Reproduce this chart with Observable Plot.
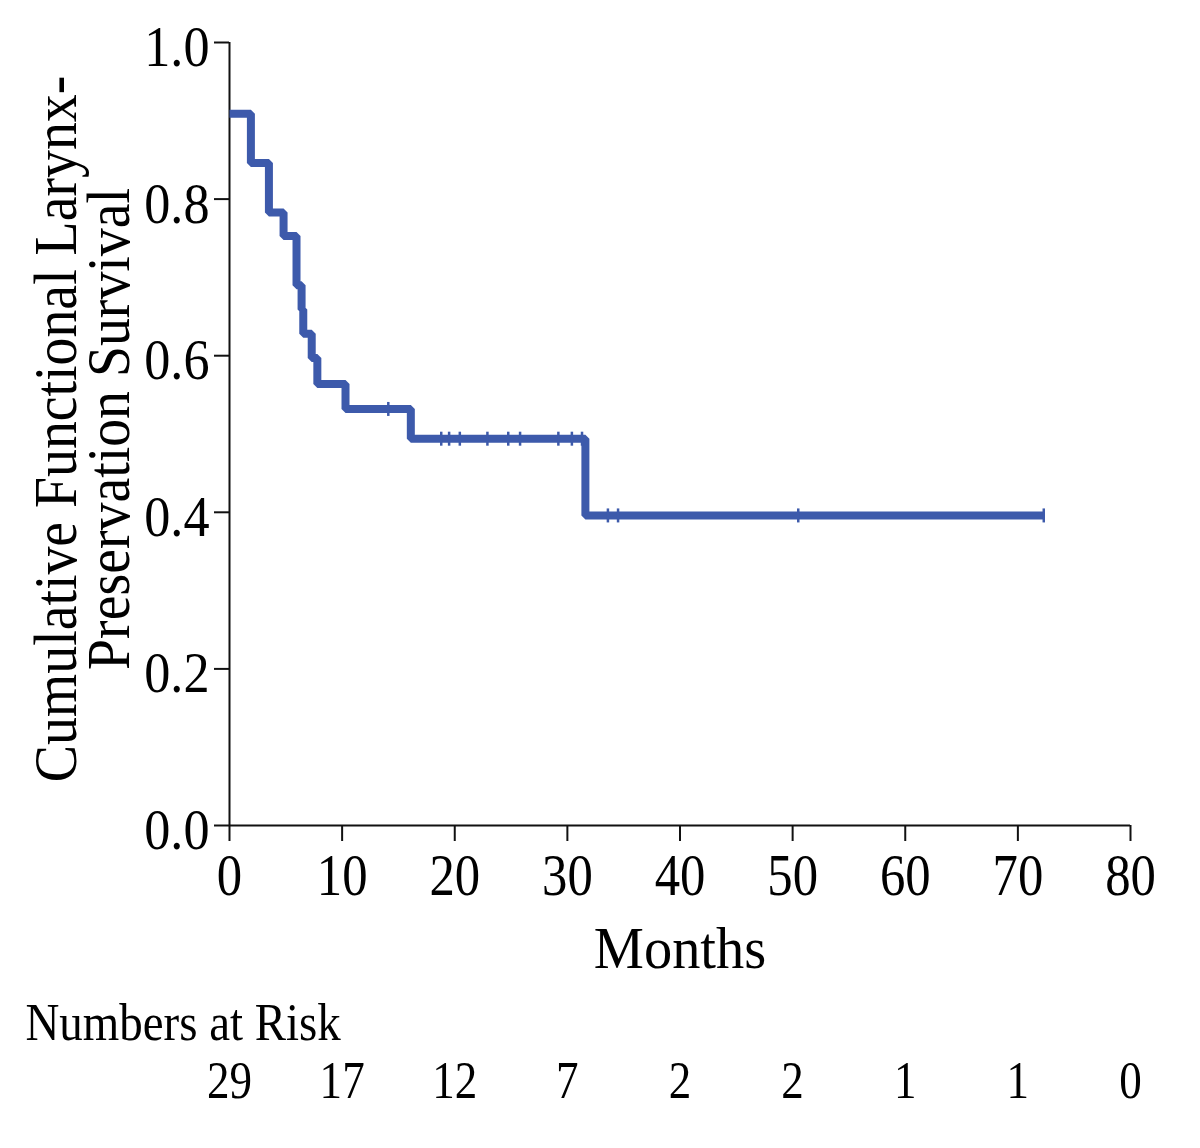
<!DOCTYPE html>
<html><head><meta charset="utf-8">
<script src="https://cdn.jsdelivr.net/npm/d3@7"></script>
<script src="https://cdn.jsdelivr.net/npm/@observablehq/plot@0.6"></script>
<style>
html,body{margin:0;padding:0;background:#fff;}
#chart svg{display:block;}
</style></head><body><div id="chart"></div>
<script>
// Kaplan–Meier step curve (months, survival)
const eventTimes = [0, 1.9, 3.5, 4.8, 5.95, 6.4, 6.55, 7.3, 7.8, 10.3, 16.1, 31.6, 72.3];
const survival   = [0.909, 0.846, 0.783, 0.753, 0.690, 0.659, 0.628, 0.597, 0.564, 0.532, 0.494, 0.396, 0.396];
// censored observations
const censorTimes    = [14.1, 18.8, 19.5, 20.45, 22.9, 24.75, 25.8, 29.2, 30.4, 31.3, 33.6, 34.5, 50.5, 72.3];
const censorSurvival = [0.532, 0.494, 0.494, 0.494, 0.494, 0.494, 0.494, 0.494, 0.494, 0.494, 0.396, 0.396, 0.396, 0.396];
// axes
const xTicks = [0, 10, 20, 30, 40, 50, 60, 70, 80];
const yTicks = [0, 0.2, 0.4, 0.6, 0.8, 1.0];
// numbers at risk
const riskMonths = [0, 10, 20, 30, 40, 50, 60, 70, 80];
const riskCounts = [29, 17, 12, 7, 2, 2, 1, 1, 0];
const yTitle = "Cumulative Functional Larynx-\nPreservation Survival";
const xTitle = "Months";
const riskTitle = "Numbers at Risk";

const curve = eventTimes.map((t, i) => ({t, s: survival[i]}));
const censored = censorTimes.map((t, i) => ({t, s: censorSurvival[i]}));
const riskTable = riskMonths.map((m, i) => ({m, n: riskCounts[i]}));

const blue = "#3d5aab";
const font = "Liberation Serif";
const tickSymbol = {draw(ctx) { ctx.moveTo(0, -7); ctx.lineTo(0, 7); }};

const hasAxisMarks = typeof Plot.axisX === "function";

const marks = [];
if (hasAxisMarks) {
  marks.push(
    Plot.axisX({ticks: xTicks, tickSize: 16, tickPadding: 12, fontSize: 59, label: null, strokeWidth: 2, fontFamily: font, fill: "#000", stroke: "#111"}),
    Plot.axisY({ticks: yTicks, tickSize: 15, text: null, label: null, strokeWidth: 2, stroke: "#111"}),
    Plot.axisY({ticks: yTicks, tickSize: 0, tickPadding: 20, dy: 5, tickFormat: ".1f", fontSize: 58, label: null, fontFamily: font, fill: "#000"})
  );
}
marks.push(
  Plot.ruleX([0], {stroke: "#111", strokeWidth: 2}),
  Plot.ruleY([0], {stroke: "#111", strokeWidth: 2}),
  Plot.line(curve, {x: "t", y: "s", curve: "step-after", stroke: blue, strokeWidth: 8, strokeLinejoin: "miter", strokeLinecap: "butt"}),
  Plot.dot(censored, {x: "t", y: "s", symbol: tickSymbol, stroke: blue, strokeWidth: 2.5, fill: "none", r: 4}),
  Plot.text([yTitle], {text: d => d, frameAnchor: "left", rotate: -90, dx: -191, dy: -5, lineAnchor: "top", lineHeight: 0.855, fontSize: 62, textAnchor: "middle", fill: "#000", fontFamily: font}),
  Plot.text([xTitle], {text: d => d, frameAnchor: "bottom", lineAnchor: "middle", dy: 123, fontSize: 60, fill: "#000", fontFamily: font}),
  Plot.text([riskTitle], {text: d => d, frameAnchor: "bottom-left", lineAnchor: "middle", dx: -204, dy: 198, textAnchor: "start", fontSize: 53, fill: "#000", fontFamily: font}),
  Plot.text(riskTable, {x: "m", text: d => String(d.n), frameAnchor: "bottom", lineAnchor: "middle", dy: 256, fontSize: 53, fill: "#000", fontFamily: font})
);

const chart = Plot.plot({
  width: 1200,
  height: 1148,
  marginTop: 42,
  marginLeft: 229,
  marginRight: 70,
  marginBottom: 323,
  style: {fontFamily: font, background: "#fff", color: "#000", overflow: "visible"},
  x: {domain: [0, 80], ticks: xTicks, tickSize: 16, tickPadding: 12, label: null},
  y: {domain: [0, 1], ticks: yTicks, tickSize: 15, tickFormat: ".1f", label: null},
  marks
});
document.getElementById("chart").appendChild(chart);

// horizontally condense text (the reference uses a narrow serif face)
function squeeze(nodes, sx) {
  nodes.forEach(t => {
    const tr = t.getAttribute("transform") || "";
    const xa = t.getAttribute("x");
    if (xa != null && /^-?[\d.]+$/.test(xa.trim())) t.setAttribute("x", (+xa) / sx);
    t.setAttribute("transform", `${tr} scale(${sx},1)`);
  });
}
const q = s => Array.from(chart.querySelectorAll(s));
squeeze(q('g[aria-label="x-axis tick label"] text, g[aria-label="x-axis"] .tick text'), 0.86);
squeeze(q('g[aria-label="y-axis tick label"] text, g[aria-label="y-axis"] .tick text'), 0.9);
const textGroups = q('g[aria-label="text"]');
if (textGroups[0]) squeeze(Array.from(textGroups[0].querySelectorAll("text")), 0.9);
if (textGroups[1]) squeeze(Array.from(textGroups[1].querySelectorAll("text")), 0.94);
if (textGroups[2]) squeeze(Array.from(textGroups[2].querySelectorAll("text")), 0.885);
if (textGroups[3]) squeeze(Array.from(textGroups[3].querySelectorAll("text")), 0.85);
if (!hasAxisMarks) {
  q('g[aria-label="x-axis"] .tick text').forEach(t => t.setAttribute("font-size", 59));
  q('g[aria-label="y-axis"] .tick text').forEach(t => t.setAttribute("font-size", 58));
}
</script>
</body></html>
